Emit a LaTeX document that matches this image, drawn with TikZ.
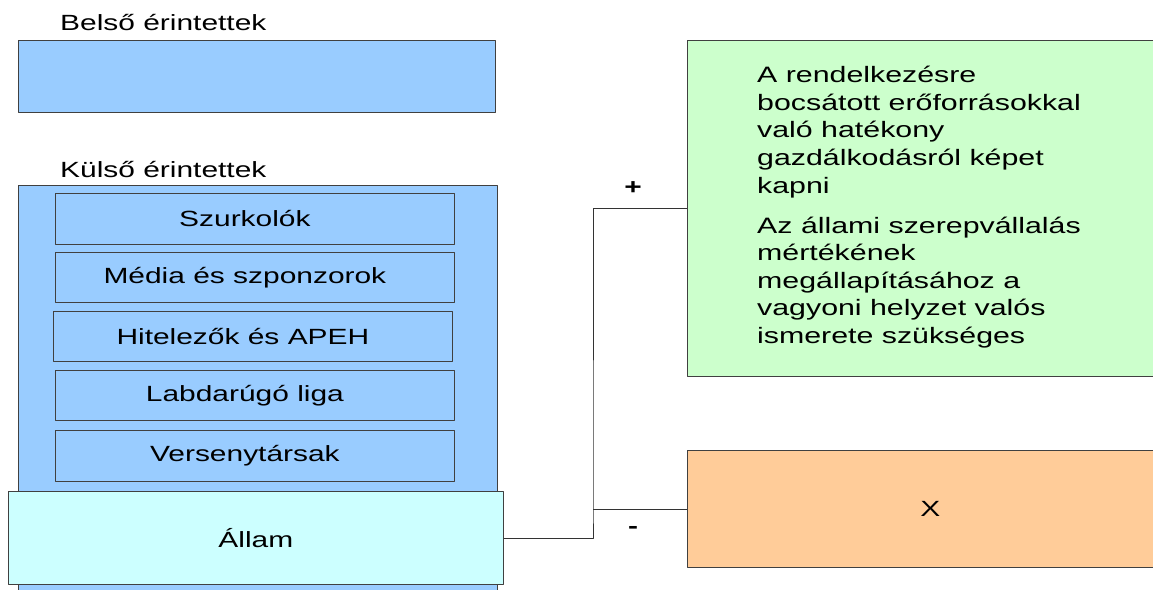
\documentclass[tikz,border=0pt]{standalone}
\usepackage{fontspec}
\setmainfont[FakeStretch=1.36]{Liberation Sans}
\usetikzlibrary{positioning}
\definecolor{kek}{HTML}{99CCFF}
\definecolor{zold}{HTML}{CCFFCC}
\definecolor{narancs}{HTML}{FFCC99}
\definecolor{cian}{HTML}{CCFFFF}

\begin{document}
\begin{tikzpicture}[line join=round,x=1pt,y=-1pt,
  every node/.style={font=\fontsize{22}{26}\selectfont},
  doboz/.style={draw=black!75,line width=0.8pt,rectangle,inner sep=0pt,anchor=north west},
  tag/.style={doboz,fill=kek,minimum width=399pt,execute at begin node={\hspace*{-20pt}}},
  cim/.style={anchor=base west,inner sep=0pt},
  vonal/.style={draw=black!80,line width=0.8pt}]
\useasboundingbox (0,0) rectangle (1153,589);
\clip (0,0) rectangle (1153,589);
% belso erintettek
\node[cim] (belsocim) at (60,30) {Belső érintettek};
\node[doboz,fill=kek,minimum width=477pt,minimum height=72pt] (belso) at (18,40) {};
% kulso erintettek
\node[cim] (kulsocim) at (60,177) {Külső érintettek};
\node[doboz,fill=kek,minimum width=479pt,minimum height=410pt] (kulso) at (18,185) {};
\node[tag,minimum height=51pt] (szurkolok) at (55,193) {Szurkolók};
\node[tag,minimum height=50pt] (media) at (55,252) {Média és szponzorok};
\node[tag,minimum height=50pt] (hitelezok) at (53,311) {Hitelezők és APEH};
\node[tag,minimum height=50pt] (liga) at (55,370) {Labdarúgó liga};
\node[tag,minimum height=51pt] (versenytars) at (55,430) {Versenytársak};
\node[doboz,fill=cian,minimum width=495pt,minimum height=93pt] (allam) at (8,491) {Állam};
% jobb oldal
\node[doboz,fill=zold,minimum width=486pt,minimum height=336pt] (cel) at (687,40) {};
\node[anchor=north west,inner sep=0pt,align=left,font=\fontsize{22.3}{27.6}\selectfont] (celszoveg) at (757,66) {A rendelkezésre\\
bocsátott erőforrásokkal\\
való hatékony\\
gazdálkodásról képet\\
kapni\\[12.5pt]
Az állami szerepvállalás\\
mértékének\\
megállapításához a\\
vagyoni helyzet valós\\
ismerete szükséges};
\node[doboz,fill=narancs,minimum width=486pt,minimum height=117pt] (narancsdoboz) at (687,450) {X};
% kapcsolat
\coordinate (elag) at ([xshift=-94pt]narancsdoboz.west);
\draw[vonal] (allam.east) -| (elag) |- (cel.west);
\draw[vonal] (elag) -- (narancsdoboz.west);
\node (plusz) at (633,188) {\textbf{+}};
\node (minusz) at (633,530) {\textbf{-}};
\end{tikzpicture}
\end{document}
